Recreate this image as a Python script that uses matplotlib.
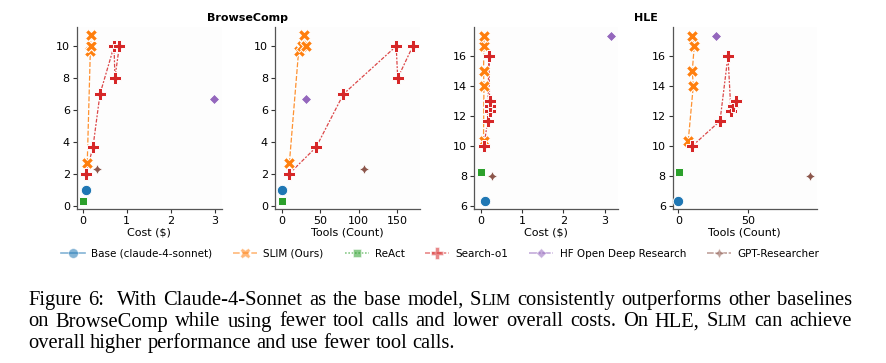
import matplotlib
matplotlib.use("Agg")
import matplotlib.pyplot as plt
from matplotlib.lines import Line2D

# ---------------- data ----------------
methods = ["Base (claude-4-sonnet)", "SLIM (Ours)", "ReAct", "Search-o1",
           "HF Open Deep Research", "GPT-Researcher"]

# BrowseComp
bc_base_cost, bc_base_tools, bc_base_acc = [0.07], [0.0], [1.0]
bc_slim_cost = [0.10, 0.17, 0.18, 0.18, 0.18]
bc_slim_tools = [10.0, 22.0, 26.0, 32.0, 29.0]
bc_slim_acc = [2.67, 9.67, 10.0, 10.0, 10.67]
bc_react_cost, bc_react_tools, bc_react_acc = [0.0], [0.0], [0.33]
bc_search_cost = [0.07, 0.23, 0.39, 0.71, 0.73, 0.83]
bc_search_tools = [9.6, 44.8, 80.4, 149.0, 151.0, 170.6]
bc_search_acc = [2.0, 3.67, 7.0, 10.0, 8.0, 10.0]
bc_hf_cost, bc_hf_tools, bc_hf_acc = [2.98], [31.3], [6.67]
bc_gpt_cost, bc_gpt_tools, bc_gpt_acc = [0.33], [107.0], [2.33]

# HLE
hle_base_cost, hle_base_tools, hle_base_acc = [0.10], [0.0], [6.33]
hle_slim_cost = [0.07, 0.08, 0.07, 0.08, 0.08]
hle_slim_tools = [7.1, 10.7, 10.0, 11.4, 10.0]
hle_slim_acc = [10.33, 14.0, 15.0, 16.67, 17.33]
hle_react_cost, hle_react_tools, hle_react_acc = [0.0], [0.5], [8.25]
hle_search_cost = [0.08, 0.17, 0.20, 0.22, 0.23, 0.23]
hle_search_tools = [10.0, 29.8, 35.5, 37.6, 39.3, 41.2]
hle_search_acc = [10.0, 11.67, 16.0, 12.33, 12.67, 13.0]
hle_hf_cost, hle_hf_tools, hle_hf_acc = [3.16], [26.7], [17.33]
hle_gpt_cost, hle_gpt_tools, hle_gpt_acc = [0.27], [94.3], [8.0]

caption_lines = [
    ["Figure", "6:", "", "With", "Claude-4-Sonnet", "as", "the", "base", "model,", "SLIM",
     "consistently", "outperforms", "other", "baselines"],
    ["on", "BrowseComp", "while", "using", "fewer", "tool", "calls", "and", "lower",
     "overall", "costs.", "On", "HLE,", "SLIM", "can", "achieve"],
    ["overall", "higher", "performance", "and", "use", "fewer", "tool", "calls."],
]

# ---------------- styles ----------------
colors = ["#1f77b4", "#ff7f0e", "#2ca02c", "#d62728", "#9467bd", "#8c564b"]
markers = ["o", "X", (4, 0, 45), "P", (4, 0, 0), (4, 1, 0)]
msizes = [7.5, 8.0, 8.0, 8.5, 7.5, 7.5]
dashes = [(None, None), (4, 1.5), (1, 1), (3, 1.25, 1.5, 1.25), (5, 1, 1, 1), (4, 1, 2, 1)]

W, H = 887, 363
fig = plt.figure(figsize=(W / 100, H / 100), dpi=100)

def px_axes(left, right, top, bottom):
    return fig.add_axes([left / W, 1 - bottom / H, (right - left) / W, (bottom - top) / H])

axes = [px_axes(76.7, 221.7, 27, 209), px_axes(275, 420, 27, 209),
        px_axes(474, 618, 27, 209), px_axes(672.7, 816.7, 27, 209)]

panels = [
    (axes[0], [bc_base_cost, bc_slim_cost, bc_react_cost, bc_search_cost, bc_hf_cost, bc_gpt_cost],
     [bc_base_acc, bc_slim_acc, bc_react_acc, bc_search_acc, bc_hf_acc, bc_gpt_acc],
     "Cost ($)", (-0.14, 3.16), [0, 1, 2, 3], (-0.2, 11.2), [0, 2, 4, 6, 8, 10]),
    (axes[1], [bc_base_tools, bc_slim_tools, bc_react_tools, bc_search_tools, bc_hf_tools, bc_gpt_tools],
     [bc_base_acc, bc_slim_acc, bc_react_acc, bc_search_acc, bc_hf_acc, bc_gpt_acc],
     "Tools (Count)", (-8.7, 180), [0, 50, 100, 150], (-0.2, 11.2), [0, 2, 4, 6, 8, 10]),
    (axes[2], [hle_base_cost, hle_slim_cost, hle_react_cost, hle_search_cost, hle_hf_cost, hle_gpt_cost],
     [hle_base_acc, hle_slim_acc, hle_react_acc, hle_search_acc, hle_hf_acc, hle_gpt_acc],
     "Cost ($)", (-0.16, 3.32), [0, 1, 2, 3], (5.8, 17.93), [6, 8, 10, 12, 14, 16]),
    (axes[3], [hle_base_tools, hle_slim_tools, hle_react_tools, hle_search_tools, hle_hf_tools, hle_gpt_tools],
     [hle_base_acc, hle_slim_acc, hle_react_acc, hle_search_acc, hle_hf_acc, hle_gpt_acc],
     "Tools (Count)", (-4, 98.9), [0, 50], (5.8, 17.93), [6, 8, 10, 12, 14, 16]),
]

for ax, xs_list, ys_list, xlabel, xlim, xticks, ylim, yticks in panels:
    ax.set_facecolor("#fdfdfd")
    for i, (xs, ys) in enumerate(zip(xs_list, ys_list)):
        if len(xs) > 1:
            ln, = ax.plot(xs, ys, color=colors[i], lw=0.9, alpha=0.85, zorder=2)
            if dashes[i][0] is not None:
                ln.set_dashes(dashes[i])
        ax.plot(xs, ys, ls="none", marker=markers[i], ms=msizes[i], color=colors[i],
                mec="white", mew=0.7, zorder=3)
    ax.set_xlim(*xlim)
    ax.set_ylim(*ylim)
    ax.set_xticks(xticks)
    ax.set_yticks(yticks)
    ax.tick_params(labelsize=8, length=3, width=0.8, pad=2, colors="#333333", labelcolor="black")
    ax.set_xlabel(xlabel, fontsize=8, labelpad=1)
    for s in ["top", "right"]:
        ax.spines[s].set_visible(False)
    for s in ["left", "bottom"]:
        ax.spines[s].set_color("#555555")
        ax.spines[s].set_linewidth(0.9)

fig.text(248 / W, 1 - 18 / H, "BrowseComp", ha="center", va="center", fontsize=8, fontweight="bold")
fig.text(646 / W, 1 - 18 / H, "HLE", ha="center", va="center", fontsize=8, fontweight="bold")

handles = []
for i in range(6):
    h = Line2D([], [], color=colors[i], lw=1.2, alpha=0.55, marker=markers[i], ms=msizes[i] - 0.5,
               mec="white", mew=0.6, mfc=colors[i])
    if dashes[i][0] is not None:
        h.set_dashes(dashes[i])
    handles.append(h)
fig.legend(handles, methods, loc="center", bbox_to_anchor=(440 / W, 1 - 254 / H), ncol=6,
           frameon=False, fontsize=7.5, handlelength=2.3, handletextpad=0.6, columnspacing=2.0)

# ---------------- caption (justified, small caps for SLIM) ----------------
renderer = fig.canvas.get_renderer()
cap_family = "Liberation Serif"
x0, x1 = 28, 852

def segs(word, fs):
    if word == "SLIM":
        return [("S", fs), ("LIM", fs * 0.78)]
    return [(word, fs)]

def width(s, fs):
    t = fig.text(0, 0, s, fontsize=fs, family=cap_family)
    w = t.get_window_extent(renderer).width
    t.remove()
    return w

def natural_width(words, fs):
    sp = width("a a", fs) - width("aa", fs)
    tot = 0
    n = 0
    for w in words:
        if w == "":
            tot += 0.3 * fs * 100 / 72
            continue
        tot += sum(width(s, f) for s, f in segs(w, fs))
        n += 1
    return tot + sp * (n - 1)

base_fs = 14.0
cap_fs = base_fs * (x1 - x0) / natural_width(caption_lines[0], base_fs) * 0.985

space_w = width("a a", cap_fs) - width("aa", cap_fs)
baselines = [305, 326.5, 348]
for li, words in enumerate(caption_lines):
    wl = []
    for w in words:
        if w == "":
            wl.append(("gap", 0.3 * cap_fs * 100 / 72))
        else:
            wl.append(("word", [(s, fs, width(s, fs)) for s, fs in segs(w, cap_fs)]))
    real = [e for e in wl if e[0] == "word"]
    total = sum(sum(p[2] for p in e[1]) for e in real) + sum(e[1] for e in wl if e[0] == "gap")
    ngaps = len(real) - 1
    if li < len(caption_lines) - 1:
        gap = (x1 - x0 - total) / ngaps
    else:
        gap = space_w
    x = x0
    first = True
    for e in wl:
        if e[0] == "gap":
            x += e[1]
            continue
        if not first:
            x += gap
        first = False
        for s, fs, w in e[1]:
            fig.text(x / W, 1 - baselines[li] / H, s, fontsize=fs, family=cap_family,
                     va="baseline", ha="left")
            x += w

fig.savefig("out.png", dpi=100)
